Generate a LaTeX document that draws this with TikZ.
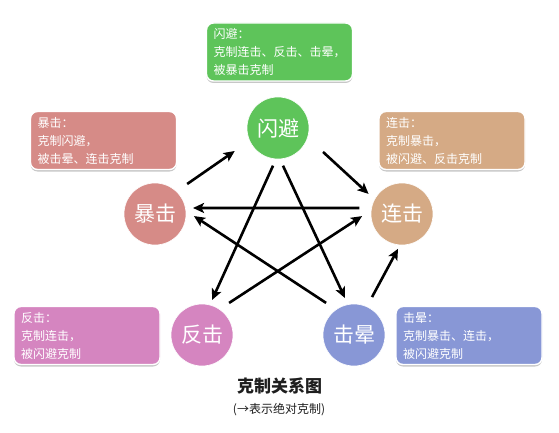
\documentclass[tikz,border=0pt]{standalone}
\usepackage{fontspec}
\setmainfont{Noto Sans CJK SC}
\usetikzlibrary{calc,arrows.meta,shadows}
\definecolor{cSB}{RGB}{94,196,90}
\definecolor{cBJ}{RGB}{214,139,135}
\definecolor{cLJ}{RGB}{213,170,133}
\definecolor{cFJ}{RGB}{213,133,192}
\definecolor{cJY}{RGB}{136,151,214}
\definecolor{ink}{RGB}{30,30,30}
\tikzset{
  skill/.style={circle, minimum size=62pt, inner sep=0pt, draw=white, line width=0.6pt,
    text=white, font=\fontsize{21pt}{24pt}\selectfont},
  infobox/.style={rectangle, rounded corners=7pt, draw=white, line width=1.4pt,
    minimum width=146pt, minimum height=58pt, text width=132pt, inner xsep=7pt,
    align=left, text=white, font=\fontsize{12pt}{18pt}\selectfont,
    drop shadow={shadow xshift=0pt, shadow yshift=-2pt, opacity=0.22, fill=black}},
  arr/.style={line width=2.6pt, draw=black, -{Stealth[length=11pt,width=10pt,inset=2.5pt]}}
}
\begin{document}
\begin{tikzpicture}[x=1pt,y=-1pt]
\useasboundingbox (0,0) rectangle (559,433);
% boxes
\node[infobox, fill=cSB] (SBbox) at (279.5,52) {闪避：\\克制连击、反击、击晕，\\被暴击克制};
\node[infobox, fill=cBJ] (BJbox) at (103.5,140.5) {暴击：\\克制闪避，\\被击晕、连击克制};
\node[infobox, fill=cLJ] (LJbox) at (452,140.5) {连击：\\克制暴击，\\被闪避、反击克制};
\node[infobox, fill=cFJ] (FJbox) at (87,335.5) {反击：\\克制连击，\\被闪避克制};
\node[infobox, fill=cJY] (JYbox) at (469,335.5) {击晕：\\克制暴击、连击，\\被闪避克制};
% circles
\node[skill, fill=cSB] (SB) at (278,128) {闪避};
\node[skill, fill=cBJ] (BJ) at (155,214) {暴击};
\node[skill, fill=cLJ] (LJ) at (402,214) {连击};
\node[skill, fill=cFJ] (FJ) at (202,335) {反击};
\node[skill, fill=cJY] (JY) at (354,335) {击晕};
% arrows
\draw[arr] ($(BJ)+(43:44pt)$) -- ($(SB)+(208:49pt)$);
\draw[arr] ($(SB)+(332:51pt)$) -- ($(LJ)+(149:39pt)$);
\draw[arr] ($(LJ)+(172:43pt)$) -- ($(BJ)+(9:38.5pt)$);
\draw[arr] ($(JY)+(131:42.5pt)$) -- ($(BJ)+(-3:39pt)$);
\draw[arr] ($(SB)+(262.5:38pt)$) -- ($(FJ)+(74:36.4pt)$);
\draw[arr] ($(SB)+(277.5:38pt)$) -- ($(JY)+(103.7:38pt)$);
\draw[arr] ($(FJ)+(49.8:42pt)$) -- ($(LJ)+(183:40pt)$);
\draw[arr] ($(JY)+(64.6:42pt)$) -- ($(LJ)+(263.5:35pt)$);
% title
\node[text=ink, font=\fontsize{17pt}{20pt}\selectfont\bfseries] (title) at (279.5,386) {克制关系图};
\node[text=ink, font=\fontsize{12pt}{14pt}\selectfont] (subtitle) at (279,410) {(→表示绝对克制)};
\end{tikzpicture}
\end{document}
